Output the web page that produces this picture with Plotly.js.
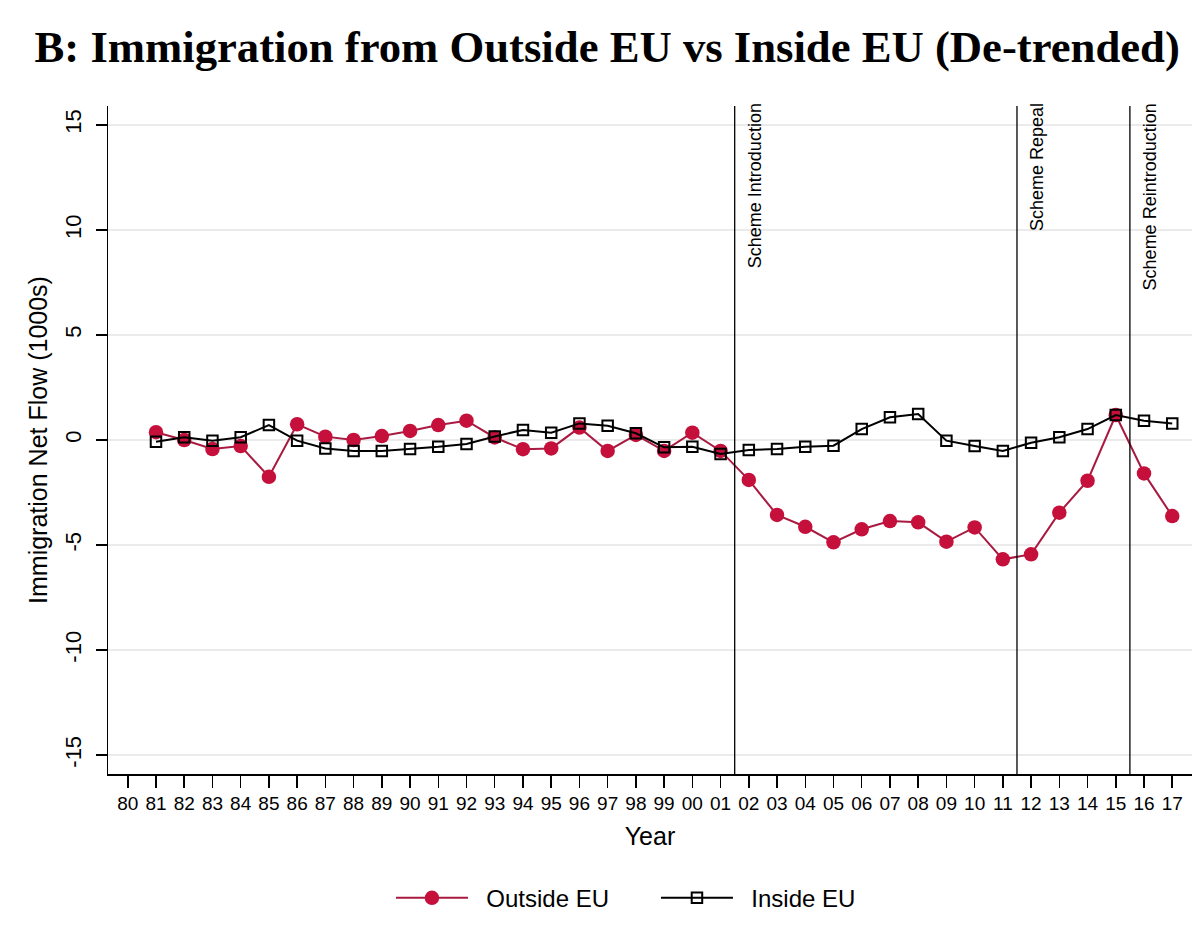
<!DOCTYPE html>
<html>
<head>
<meta charset="utf-8">
<script src="https://cdn.plot.ly/plotly-3.0.1.min.js"></script>
<style>html,body{margin:0;padding:0;background:#fff;}#chart{width:1200px;height:925px;}</style>
</head>
<body>
<div id="chart"></div>
<script>
// Years (x) and tick labels
const years = [1981,1982,1983,1984,1985,1986,1987,1988,1989,1990,1991,1992,1993,1994,1995,1996,1997,1998,1999,2000,2001,2002,2003,2004,2005,2006,2007,2008,2009,2010,2011,2012,2013,2014,2015,2016,2017];
const tickYears = [1980,1981,1982,1983,1984,1985,1986,1987,1988,1989,1990,1991,1992,1993,1994,1995,1996,1997,1998,1999,2000,2001,2002,2003,2004,2005,2006,2007,2008,2009,2010,2011,2012,2013,2014,2015,2016,2017];
const tickLabels = ["80","81","82","83","84","85","86","87","88","89","90","91","92","93","94","95","96","97","98","99","00","01","02","03","04","05","06","07","08","09","10","11","12","13","14","15","16","17"];

// Series values (1000s, de-trended)
const outsideEU = [0.37,0.00,-0.43,-0.29,-1.75,0.75,0.16,0.00,0.19,0.43,0.71,0.92,0.12,-0.44,-0.40,0.59,-0.52,0.24,-0.52,0.35,-0.52,-1.90,-3.57,-4.13,-4.87,-4.25,-3.86,-3.92,-4.84,-4.16,-5.68,-5.44,-3.46,-1.94,1.19,-1.59,-3.62];
const insideEU  = [-0.08,0.13,-0.03,0.13,0.71,-0.03,-0.40,-0.52,-0.52,-0.43,-0.32,-0.19,0.17,0.48,0.35,0.79,0.68,0.32,-0.35,-0.32,-0.67,-0.48,-0.43,-0.32,-0.27,0.52,1.08,1.24,-0.03,-0.29,-0.52,-0.13,0.13,0.52,1.19,0.92,0.79];

// Series names
const seriesNames = ["Outside EU", "Inside EU"];

// Policy events
const eventYears = [2001.5, 2011.5, 2015.5];
const eventLabels = ["Scheme Introduction", "Scheme Repeal", "Scheme Reintroduction"];

const yTicks = [-15,-10,-5,0,5,10,15];
const yTickLabels = ["-15","-10","-5","0","5","10","15"];

const pad = "\u00a0\u00a0";

const traces = [
  {
    x: years, y: outsideEU, name: pad + seriesNames[0], type: "scatter", mode: "lines+markers",
    line: {color: "#a81a40", width: 2},
    marker: {symbol: "circle", size: 14.5, color: "#c4103a", line: {width: 0}}
  },
  {
    x: years, y: insideEU, name: pad + seriesNames[1], type: "scatter", mode: "lines+markers",
    line: {color: "#000000", width: 2},
    marker: {symbol: "square-open", size: 10.5, color: "#000000", line: {width: 2, color: "#000000"}}
  }
];

const shapes = eventYears.map(v => ({
  type: "line", xref: "x", yref: "paper", x0: v, x1: v, y0: 0, y1: 1,
  line: {color: "#000000", width: 1.3}
}));

const annotations = eventYears.map((v, i) => ({
  x: v, xref: "x", y: 1, yref: "paper", text: eventLabels[i],
  showarrow: false, textangle: -90, xanchor: "left", yanchor: "top",
  xshift: 8, yshift: 5,
  font: {family: "Liberation Sans, Arial, sans-serif", size: 18, color: "#000"}
}));

const layout = {
  width: 1200, height: 925,
  paper_bgcolor: "#ffffff", plot_bgcolor: "#ffffff",
  margin: {l: 108, r: 8, t: 106, b: 151, pad: 0, autoexpand: false},
  font: {family: "Liberation Sans, Arial, sans-serif", color: "#000"},
  title: {
    text: "B: Immigration from Outside EU vs Inside EU (De-trended)",
    font: {family: "Liberation Serif, Times New Roman, serif", size: 44.7, weight: "bold", color: "#000"},
    xref: "container", x: 0.506, xanchor: "center",
    yref: "container", y: 0.950, yanchor: "middle"
  },
  xaxis: {
    range: [1979.3, 2017.7],
    tickvals: tickYears, ticktext: tickLabels,
    ticks: "outside", ticklen: 12, tickwidth: 1.5, tickcolor: "#000",
    showline: true, linecolor: "#000", linewidth: 1.5,
    showgrid: false, zeroline: false,
    tickfont: {size: 19, color: "#000"},
    title: {text: "Year", font: {size: 25, color: "#000"}, standoff: 14},
    automargin: false
  },
  yaxis: {
    range: [-15.9, 15.9],
    tickvals: yTicks, ticktext: yTickLabels,
    ticks: "outside", ticklen: 11, tickwidth: 1.5, tickcolor: "#000",
    showline: true, linecolor: "#000", linewidth: 1.5,
    showgrid: true, gridcolor: "#ebebeb", gridwidth: 1.5,
    zeroline: false, tickangle: -90, ticklabelstandoff: 6,
    tickfont: {size: 22, color: "#000"},
    title: {text: "Immigration Net Flow (1000s)", font: {size: 25, color: "#000"}, standoff: 6},
    automargin: false
  },
  showlegend: true,
  legend: {
    orientation: "h", x: 0.5055, xanchor: "center", y: -0.186, yanchor: "middle",
    font: {size: 24, color: "#000"}, itemwidth: 72, entrywidth: 178, entrywidthmode: "pixels",
    traceorder: "normal", bgcolor: "rgba(0,0,0,0)"
  },
  shapes: shapes,
  annotations: annotations
};

Plotly.newPlot("chart", traces, layout, {displayModeBar: false, staticPlot: true});
</script>
</body>
</html>
